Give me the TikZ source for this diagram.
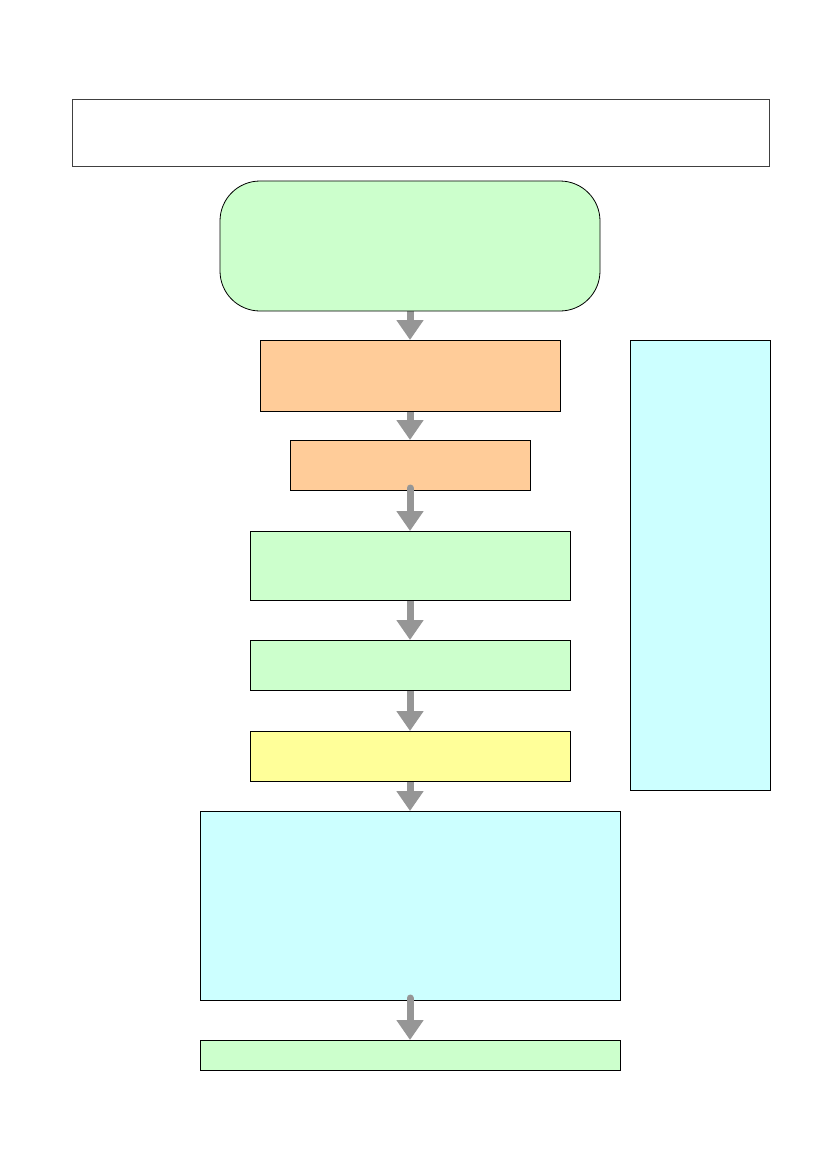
\documentclass[tikz,border=0pt]{standalone}
\usepackage{xcolor}
\definecolor{fGreen}{HTML}{CCFFCC}
\definecolor{fOrange}{HTML}{FFCC99}
\definecolor{fYellow}{HTML}{FFFF99}
\definecolor{fCyan}{HTML}{CCFFFF}
\definecolor{fGray}{HTML}{969696}
\usepackage{tikz}
\usetikzlibrary{arrows.meta, backgrounds}

\begin{document}
\begin{tikzpicture}[
  x=1pt, y=-1pt,
  box/.style={rectangle, draw=black, line width=0.8pt, inner sep=0pt, outer sep=0pt},
  flow/.style={draw=fGray, line width=7pt, line cap=round,
               -{Triangle[width=26pt, length=20pt]}}
]
\useasboundingbox (0,0) rectangle (828,1169);

\node[box, draw=black!75, fill=white, minimum width=697pt, minimum height=67pt]
  (title) at (420.5,132.5) {};
\node[box, fill=fGreen, rounded corners=40pt, minimum width=380pt, minimum height=130pt]
  (start) at (410,246) {};

\node[box, fill=fOrange, minimum width=300pt, minimum height=71pt] (prep) at (410,375.5) {};
\node[box, fill=fOrange, minimum width=240pt, minimum height=50pt] (check) at (410,465) {};
\node[box, fill=fGreen, minimum width=320pt, minimum height=69pt] (plan) at (410,565.5) {};
\node[box, fill=fGreen, minimum width=320pt, minimum height=50pt] (run) at (410,665) {};
\node[box, fill=fYellow, minimum width=320pt, minimum height=50pt] (review) at (410,756) {};
\node[box, fill=fCyan, minimum width=420pt, minimum height=189pt] (detail) at (410,905.5) {};
\node[box, fill=fGreen, minimum width=420pt, minimum height=30pt] (finish) at (410,1055) {};

\node[box, fill=fCyan, minimum width=140pt, minimum height=450pt] (side) at (700,565) {};

\begin{scope}[on background layer]
  \draw[flow] (start.south) -- (prep.north);
  \draw[flow] (prep.south) -- (check.north);
  \draw[flow] (plan.south) -- (run.north);
  \draw[flow] (run.south) -- (review.north);
  \draw[flow] (review.south) -- (detail.north);
\end{scope}
% these two start over the border
\draw[flow] ([yshift=2pt]check.south) -- (plan.north);
\draw[flow] ([yshift=2pt]detail.south) -- (finish.north);
\end{tikzpicture}
\end{document}
